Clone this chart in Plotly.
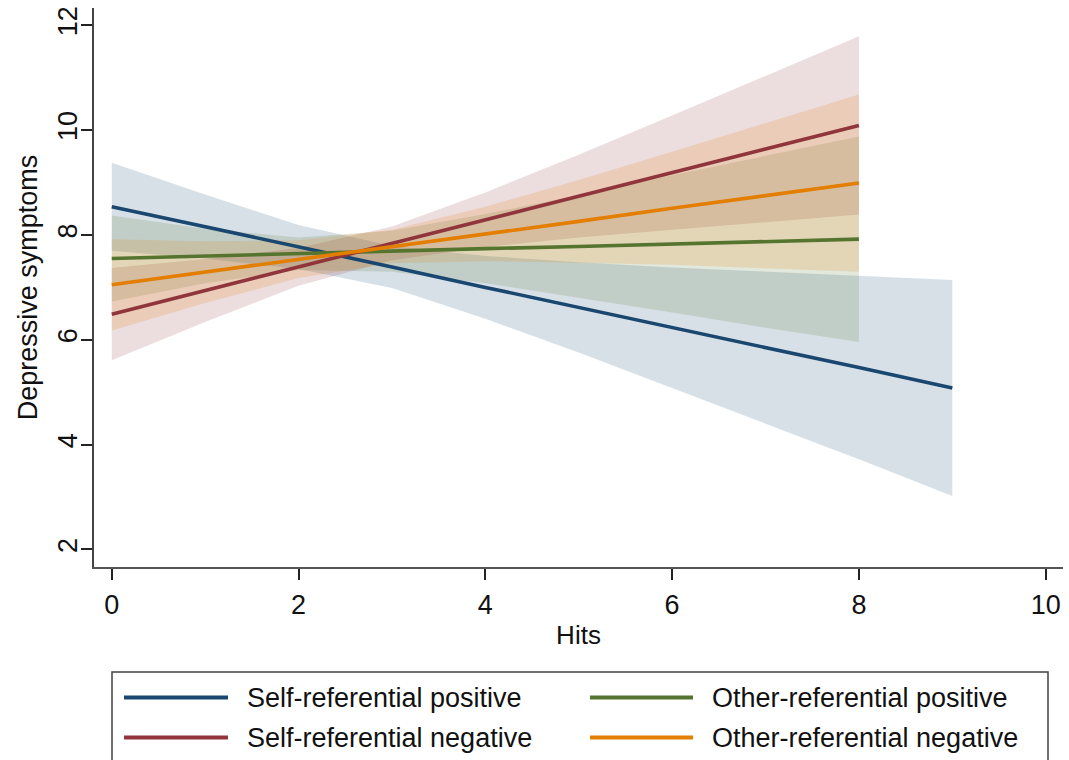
import plotly.graph_objects as go

# Predicted depressive symptoms by number of hits, with 95% CIs
hits_long = [0, 1, 2, 3, 4, 5, 6, 7, 8, 9]
hits_short = [0, 1, 2, 3, 4, 5, 6, 7, 8]

self_pos_fit = [8.54, 8.16, 7.77, 7.39, 7.00, 6.62, 6.23, 5.85, 5.47, 5.08]
self_pos_hi = [9.38, 8.77, 8.19, 7.79, 7.60, 7.48, 7.38, 7.30, 7.22, 7.14]
self_pos_lo = [7.70, 7.55, 7.35, 6.99, 6.40, 5.76, 5.08, 4.40, 3.72, 3.02]

other_pos_fit = [7.55, 7.60, 7.64, 7.69, 7.74, 7.78, 7.83, 7.87, 7.92]
other_pos_hi = [8.37, 8.12, 7.95, 8.08, 8.40, 8.76, 9.14, 9.51, 9.88]
other_pos_lo = [6.73, 7.08, 7.33, 7.30, 7.08, 6.80, 6.52, 6.23, 5.96]

self_neg_fit = [6.49, 6.94, 7.39, 7.84, 8.29, 8.74, 9.19, 9.64, 10.09]
self_neg_hi = [7.37, 7.54, 7.75, 8.16, 8.81, 9.53, 10.28, 11.03, 11.79]
self_neg_lo = [5.61, 6.34, 7.03, 7.52, 7.77, 7.95, 8.10, 8.25, 8.39]

other_neg_fit = [7.05, 7.29, 7.54, 7.78, 8.02, 8.26, 8.51, 8.75, 8.99]
other_neg_hi = [7.92, 7.88, 7.90, 8.10, 8.54, 9.05, 9.59, 10.13, 10.68]
other_neg_lo = [6.18, 6.70, 7.18, 7.46, 7.50, 7.47, 7.43, 7.37, 7.30]

x_ticks = [0, 2, 4, 6, 8, 10]
y_ticks = [2, 4, 6, 8, 10, 12]

# legend order (two columns, filled row by row)
series_names = ["Self-referential positive", "Other-referential positive",
                "Self-referential negative", "Other-referential negative"]
series_rgb = [(26, 71, 111), (85, 117, 47), (144, 53, 59), (227, 126, 0)]

series = [
    (hits_long, self_pos_fit, self_pos_hi, self_pos_lo),
    (hits_short, other_pos_fit, other_pos_hi, other_pos_lo),
    (hits_short, self_neg_fit, self_neg_hi, self_neg_lo),
    (hits_short, other_neg_fit, other_neg_hi, other_neg_lo),
]

FONT = "Arial, Liberation Sans, sans-serif"
W, H = 1069, 760
ML, MR, MT, MB = 94, 6, 8, 193

fig = go.Figure()

# confidence bands first
for (xs, fit, hi, lo), name, rgb in zip(series, series_names, series_rgb):
    fig.add_trace(go.Scatter(
        x=xs + xs[::-1], y=hi + lo[::-1],
        fill="toself", mode="lines", line=dict(width=0),
        fillcolor="rgba(%d,%d,%d,0.17)" % rgb,
        hoverinfo="skip", showlegend=False,
    ))

# fitted lines on top
for (xs, fit, hi, lo), name, rgb in zip(series, series_names, series_rgb):
    fig.add_trace(go.Scatter(
        x=xs, y=fit, mode="lines", name=name,
        line=dict(color="rgb(%d,%d,%d)" % rgb, width=3.6),
        showlegend=False,
    ))

# pixel -> paper helpers for the legend block below the plot
pw = W - ML - MR
ph = H - MT - MB


def px_x(p):
    return (p - ML) / pw


def px_y(p):
    return (H - MB - p) / ph


shapes = [dict(type="rect", xref="paper", yref="paper",
               x0=px_x(112), x1=px_x(1048), y0=px_y(672), y1=px_y(780),
               line=dict(color="#404040", width=1.5), fillcolor="white",
               layer="above")]
annotations = []
col_x = [(124, 228, 245), (590, 693, 710)]
row_y = [697.5, 737.5]
for i, (name, rgb) in enumerate(zip(series_names, series_rgb)):
    lx0, lx1, tx = col_x[i % 2]
    ry = row_y[i // 2]
    shapes.append(dict(type="line", xref="paper", yref="paper",
                       x0=px_x(lx0), x1=px_x(lx1), y0=px_y(ry), y1=px_y(ry),
                       line=dict(color="rgb(%d,%d,%d)" % rgb, width=4),
                       layer="above"))
    annotations.append(dict(xref="paper", yref="paper", x=px_x(tx), y=px_y(ry),
                            text=name, showarrow=False, xanchor="left",
                            yanchor="middle",
                            font=dict(family=FONT, size=27, color="#111")))

fig.update_layout(
    width=W, height=H,
    margin=dict(l=ML, r=MR, t=MT, b=MB, pad=0),
    paper_bgcolor="white", plot_bgcolor="white",
    font=dict(family=FONT, size=27, color="#111"),
    showlegend=False,
    shapes=shapes, annotations=annotations,
    xaxis=dict(
        range=[-0.19, 10.185], tickvals=x_ticks, showgrid=False, zeroline=False,
        showline=True, linecolor="#555", linewidth=2,
        ticks="outside", ticklen=11, tickwidth=1.5, tickcolor="#222",
        ticklabelstandoff=2, tickfont=dict(size=27),
        title=dict(text="Hits", standoff=6, font=dict(size=26)),
    ),
    yaxis=dict(
        range=[1.666, 12.33], tickvals=y_ticks, showgrid=False, zeroline=False,
        showline=True, linecolor="#444", linewidth=2,
        ticks="outside", ticklen=11, tickwidth=1.5, tickcolor="#222",
        tickangle=-90, ticklabelstandoff=-7, tickfont=dict(size=27),
        title=dict(text="Depressive symptoms", standoff=8, font=dict(size=27)),
    ),
)

fig.write_html("out.html")
